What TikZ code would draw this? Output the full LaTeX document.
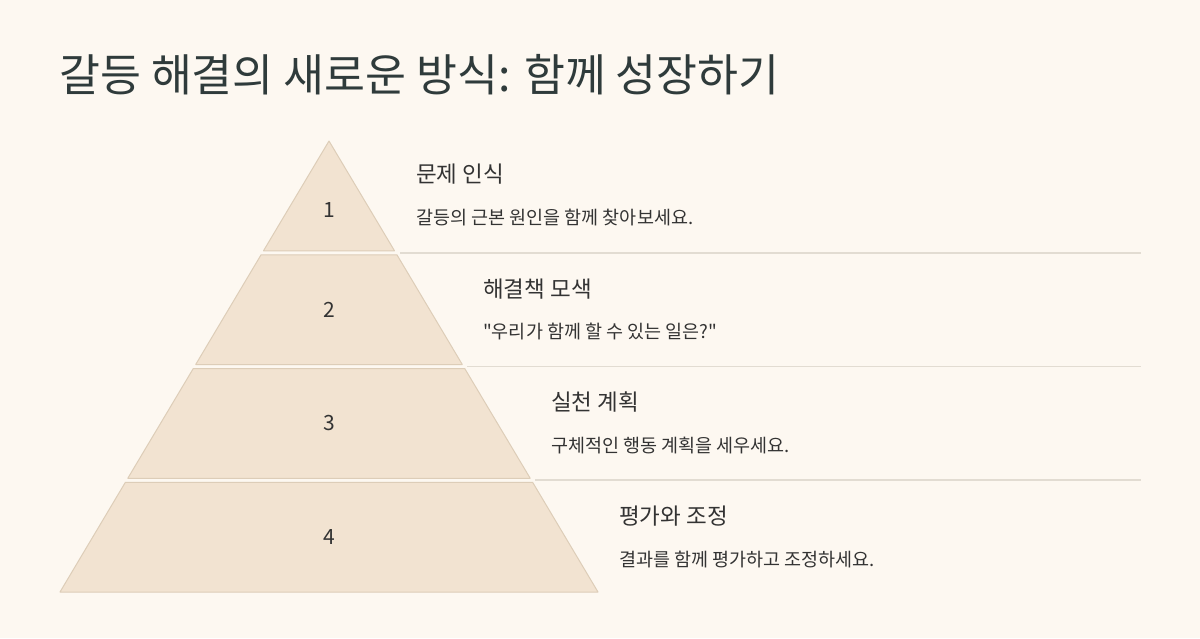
\documentclass[tikz,border=0pt]{standalone}
\usepackage{fontspec}
\newfontfamily\krfont{Noto Sans CJK KR}
\definecolor{bgc}{HTML}{FDF8F1}
\definecolor{titlec}{HTML}{2F3B3B}
\definecolor{textc}{HTML}{333333}
\definecolor{layerfill}{HTML}{F2E3D1}
\definecolor{layerdraw}{HTML}{DDCDB8}
\definecolor{sepc}{HTML}{E2DCD2}
\tikzset{
  every node/.style={font=\krfont},
  layer/.style={fill=layerfill,draw=layerdraw,line width=1pt,line join=round},
  sepline/.style={draw=sepc,line width=1.5pt},
  numlab/.style={text=textc,inner sep=0pt,anchor=base,font=\krfont\fontsize{21}{24}\selectfont},
  headlab/.style={text=textc,inner sep=0pt,anchor=base west,font=\krfont\fontsize{22.5}{26}\selectfont},
  desclab/.style={text=textc,inner sep=0pt,anchor=base west,font=\krfont\fontsize{18.5}{22}\selectfont},
}
\begin{document}
\begin{tikzpicture}[x=1pt,y=-1pt]
\useasboundingbox[fill=bgc] (0,0) rectangle (1200,638);
\node[text=titlec,inner sep=0pt,anchor=base west,font=\krfont\fontsize{44.5}{50}\selectfont] (title) at (59,91) {갈등 해결의 새로운 방식: 함께 성장하기};
% layers
\draw[layer] (329,141) -- (394.5,250.75) -- (263.5,250.75) -- cycle;
\draw[layer] (261.1,254.75) -- (396.9,254.75) -- (462.3,364.5) -- (195.7,364.5) -- cycle;
\draw[layer] (193.3,368.5) -- (464.7,368.5) -- (530.2,478.25) -- (127.8,478.25) -- cycle;
\draw[layer] (125.4,482.25) -- (532.6,482.25) -- (598,592) -- (60,592) -- cycle;
% separators
\coordinate (s1a) at (400,253); \coordinate (s1b) at (1141,253);
\coordinate (s2a) at (467,366.5); \coordinate (s2b) at (1141,366.5);
\coordinate (s3a) at (535,480); \coordinate (s3b) at (1141,480);
\draw[sepline] (s1a) -- (s1b);
\draw[sepline] (s2a) -- (s2b);
\draw[sepline] (s3a) -- (s3b);
% numbers
\node[numlab] (n1) at (329,217.5) {1};
\node[numlab] (n2) at (329,317.5) {2};
\node[numlab] (n3) at (329,430.5) {3};
\node[numlab] (n4) at (329,544.5) {4};
% texts
\node[headlab] (h1) at (416,182) {문제 인식};
\node[desclab] (d1) at (416,224) {갈등의 근본 원인을 함께 찾아보세요.};
\node[headlab] (h2) at (483,297) {해결책 모색};
\node[desclab] (d2) at (483,338) {"우리가 함께 할 수 있는 일은?"};
\node[headlab] (h3) at (551,410) {실천 계획};
\node[desclab] (d3) at (551,452) {구체적인 행동 계획을 세우세요.};
\node[headlab] (h4) at (619,524) {평가와 조정};
\node[desclab] (d4) at (619,566) {결과를 함께 평가하고 조정하세요.};
\end{tikzpicture}
\end{document}
